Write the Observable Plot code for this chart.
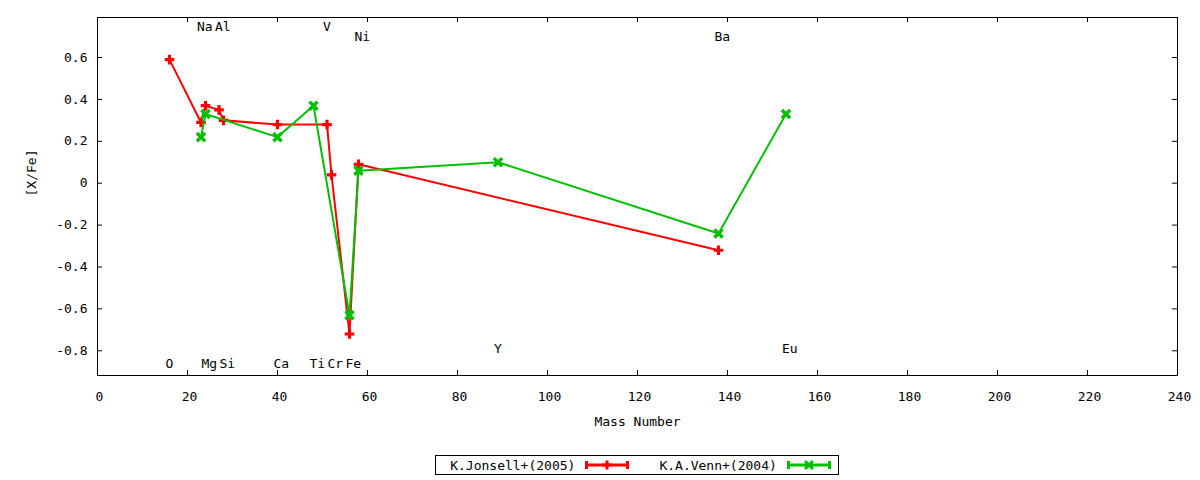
<!DOCTYPE html>
<html><head><meta charset="utf-8">
<script src="https://cdn.jsdelivr.net/npm/d3@7"></script>
<script src="https://cdn.jsdelivr.net/npm/@observablehq/plot@0.6"></script>
<style>
body{margin:0;background:#fff;font-family:"DejaVu Sans Mono",monospace;font-size:13px;color:#000}
#chart{width:1200px;height:480px;overflow:hidden}
#legendRow{display:flex;justify-content:center;padding-left:97px;padding-right:23px;margin-top:15px}
#legendBox{display:flex;align-items:center;border:1px solid #000;height:18px;padding-left:14px;padding-right:7px;white-space:pre}
#legendBox svg{display:block}
</style></head><body><div id="chart"></div>
<script>
// Series data: mass number and [X/Fe]
const jonsellMass = [16, 23, 24, 27, 28, 40, 51, 52, 56, 58, 138];
const jonsellXFe  = [0.59, 0.29, 0.37, 0.35, 0.30, 0.28, 0.28, 0.04, -0.72, 0.09, -0.32];
const vennMass = [23, 24, 40, 48, 56, 58, 89, 138, 153];
const vennXFe  = [0.22, 0.33, 0.22, 0.37, -0.63, 0.06, 0.10, -0.24, 0.33];
// Element labels
const elementNames  = ["O", "Na", "Mg", "Al", "Si", "Ca", "Ti", "V", "Cr", "Fe", "Ni", "Y", "Ba", "Eu"];
const elementMass   = [16, 23, 24, 27, 28, 40, 48, 51, 52, 56, 58, 89, 138, 153];
const elementLabelY = [-0.86, 0.745, -0.86, 0.745, -0.86, -0.86, -0.86, 0.745, -0.86, -0.86, 0.697, -0.793, 0.697, -0.793];
// Axes
const xTicks = [0, 20, 40, 60, 80, 100, 120, 140, 160, 180, 200, 220, 240];
const yTicks = [-0.8, -0.6, -0.4, -0.2, 0, 0.2, 0.4, 0.6];
const xDomain = [0, 240];
const yDomain = [-0.918, 0.791];
const seriesNames = ["K.Jonsell+(2005)", "K.A.Venn+(2004)"];
const xLabel = "Mass Number";
const yLabel = "[X/Fe]";

const RED = "#ff0000", GREEN = "#00c000";
const W = 1200, H = 440, MT = 17, MB = 65, ML = 97, MR = 23, TICK = 5;
const frameW = W - ML - MR, frameH = H - MT - MB;
const jonsell = jonsellMass.map((m, i) => ({mass: m, xfe: jonsellXFe[i]}));
const venn = vennMass.map((m, i) => ({mass: m, xfe: vennXFe[i]}));
const elements = elementNames.map((n, i) => ({name: n, mass: elementMass[i], y: elementLabelY[i]}));
const fmtY = d => d === 0 ? "0" : d.toFixed(1);

const chart = Plot.plot({
  width: W, height: H,
  marginTop: MT, marginBottom: MB, marginLeft: ML, marginRight: MR,
  style: {fontFamily: "DejaVu Sans Mono", fontSize: "13px", background: "white", color: "black", overflow: "visible"},
  x: {domain: xDomain},
  y: {domain: yDomain},
  marks: [
    Plot.axisX(xTicks, {anchor: "bottom", tickSize: 0, tickPadding: 16, tickFormat: d => String(d), label: null, dx: 2}),
    Plot.axisY(yTicks, {anchor: "left", tickSize: 0, tickPadding: 10, tickFormat: fmtY, label: null}),
    // inward tick marks on all four sides
    Plot.ruleX(xTicks, {x: d => d, insetTop: frameH - TICK, stroke: "black"}),
    Plot.ruleX(xTicks, {x: d => d, insetBottom: frameH - TICK, stroke: "black"}),
    Plot.ruleY(yTicks, {y: d => d, insetRight: frameW - TICK, stroke: "black"}),
    Plot.ruleY(yTicks, {y: d => d, insetLeft: frameW - TICK, stroke: "black"}),
    Plot.frame({stroke: "black", strokeWidth: 1}),
    Plot.text(elements, {x: "mass", y: "y", text: "name", textAnchor: "start", dx: -4, fill: "black"}),
    Plot.line(jonsell, {x: "mass", y: "xfe", stroke: RED, strokeWidth: 2}),
    Plot.dot(jonsell, {x: "mass", y: "xfe", symbol: "plus", r: 3.2, stroke: RED, strokeWidth: 3.2}),
    Plot.line(venn, {x: "mass", y: "xfe", stroke: GREEN, strokeWidth: 2}),
    Plot.dot(venn, {x: "mass", y: "xfe", symbol: "times", r: 3.8, stroke: GREEN, strokeWidth: 3.4}),
    Plot.text([xLabel], {text: d => d, frameAnchor: "bottom", dy: 50, fill: "black"}),
    Plot.text([yLabel], {text: d => d, frameAnchor: "left", rotate: -90, dx: -66, fill: "black"})
  ]
});
document.getElementById("chart").appendChild(chart);

// Legend below the plot
function sample(color, symbolType, r) {
  const w = 44, h = 12, cy = 6;
  const svg = d3.create("svg").attr("width", w).attr("height", h);
  svg.append("path").attr("d", `M1.5,${cy}H${w - 1.5}M1.5,${cy - 4}V${cy + 4}M${w - 1.5},${cy - 4}V${cy + 4}`)
    .attr("stroke", color).attr("stroke-width", 3).attr("fill", "none");
  svg.append("path").attr("d", d3.symbol(symbolType, Math.PI * r * r)())
    .attr("transform", `translate(${w / 2},${cy})`)
    .attr("stroke", color).attr("stroke-width", 3).attr("fill", "none");
  return svg.node();
}
const row = document.createElement("div"); row.id = "legendRow";
const box = document.createElement("div"); box.id = "legendBox";
const t1 = document.createElement("span"); t1.textContent = seriesNames[0]; t1.style.marginRight = "10px";
const s1 = sample(RED, d3.symbolPlus, 3);
const t2 = document.createElement("span"); t2.textContent = seriesNames[1]; t2.style.margin = "0 10px 0 30px";
const s2 = sample(GREEN, d3.symbolTimes, 3.7);
box.append(t1, s1, t2, s2);
row.appendChild(box);
document.getElementById("chart").appendChild(row);
</script></body></html>
